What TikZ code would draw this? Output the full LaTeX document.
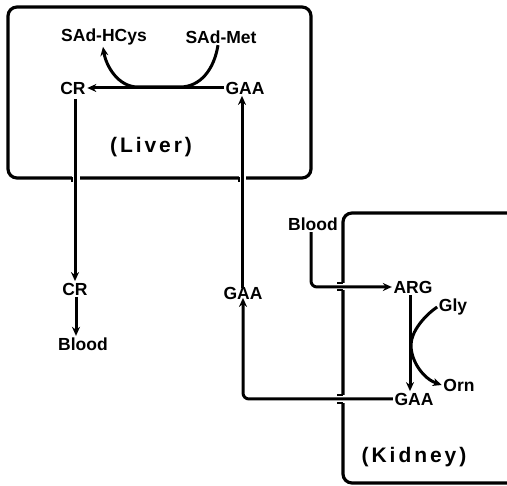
\documentclass[tikz,border=0pt]{standalone}
\usepackage{fontspec}
\setmainfont{Liberation Sans}
\newfontfamily\spacedfont[LetterSpace=14]{Liberation Sans}
\usetikzlibrary{arrows.meta}
\begin{document}
\begin{tikzpicture}[x=1pt,y=-1pt,
  lbl/.style={font=\fontsize{17.5}{19}\selectfont\bfseries, inner sep=1.5pt},
  big/.style={font=\fontsize{21}{24}\selectfont\spacedfont\bfseries, inner sep=0pt},
  arr/.style={line width=3pt, -{Stealth[length=9pt,width=8pt]}},
  organ/.style={line width=3.2pt, rounded corners=9pt},
  tick/.style={line width=2pt}]
\useasboundingbox (0,0) rectangle (507,486);
\begin{scope}
\clip (0,0) rectangle (507,486);
\draw[organ] (8,7) rectangle (311,178);
\draw[organ] (560,213) -- (343,213) -- (343,483) -- (560,483);
\end{scope}
% crossings
\fill[white] (72,175) rectangle (80,181);
\draw[tick] (72,177) -- (72,182);
\fill[white] (239,175) rectangle (246,181);
\draw[tick] (239,177) -- (239,182);
\fill[white] (340,283) rectangle (346,290);
\draw[tick] (337,283) -- (343,283);
\draw[tick] (337,290) -- (343,290);
\fill[white] (340,395) rectangle (346,403);
\draw[tick] (337,395) -- (343,395);
\draw[tick] (337,403) -- (343,403);
% liver
\node[lbl] (shcys) at (104,37) {SAd-HCys};
\node[lbl] (smet) at (221,37) {SAd-Met};
\node[lbl] (liverCR) at (73,88) {CR};
\node[lbl] (liverGAA) at (245,88) {GAA};
\node[big] (liverlabel) at (151,147) {(Liver)};
% outside
\node[lbl] (crB) at (75,289) {CR};
\node[lbl] (bloodA) at (83,344) {Blood};
\node[lbl] (gaaM) at (243,293) {GAA};
\node[lbl] (bloodK) at (313,224) {Blood};
% kidney
\node[lbl] (arg) at (413,287) {ARG};
\node[lbl] (kgaa) at (414,399) {GAA};
\node[lbl] (gly) at (453,307) {Gly};
\node[lbl] (orn) at (459,385) {Orn};
\node[big] (kidneylabel) at (414,457) {(Kidney)};
% helper coordinates
\coordinate (crx) at ([xshift=2pt]liverCR.south);
\coordinate (crx2) at ([xshift=1pt]crB.south);
\coordinate (gx) at ([xshift=-1pt]gaaM.north);
\coordinate (ax) at ([xshift=-3pt]arg.south);
\coordinate (bx) at ([xshift=-2pt]bloodK.south);
% connectors
\draw[arr] (liverGAA.west) -- (liverCR.east);
\draw[arr] ([xshift=-3pt]smet.south) .. controls (214,70) and (200,87) .. (180,87)
   -- (138,87) .. controls (118,87) and (106,66) .. ([xshift=-1pt]shcys.south);
\draw[arr] ([yshift=-3pt]crx) -- (crx |- crB.north);
\draw[arr] (crx2) -- (crx2 |- bloodA.north);
\draw[arr] ([yshift=-3pt]gx) -- (gx |- liverGAA.south);
\draw[arr, rounded corners=6pt] (kgaa.west) -| ([yshift=3pt]gaaM.south);
\draw[arr, rounded corners=6pt] (bx) |- (arg.west);
\draw[arr] (ax) -- (ax |- kgaa.north);
\draw[arr] (gly.west) .. controls (424,316) and (411,332) .. (411,345)
   .. controls (411,362) and (424,379) .. (orn.west);
\end{tikzpicture}
\end{document}
